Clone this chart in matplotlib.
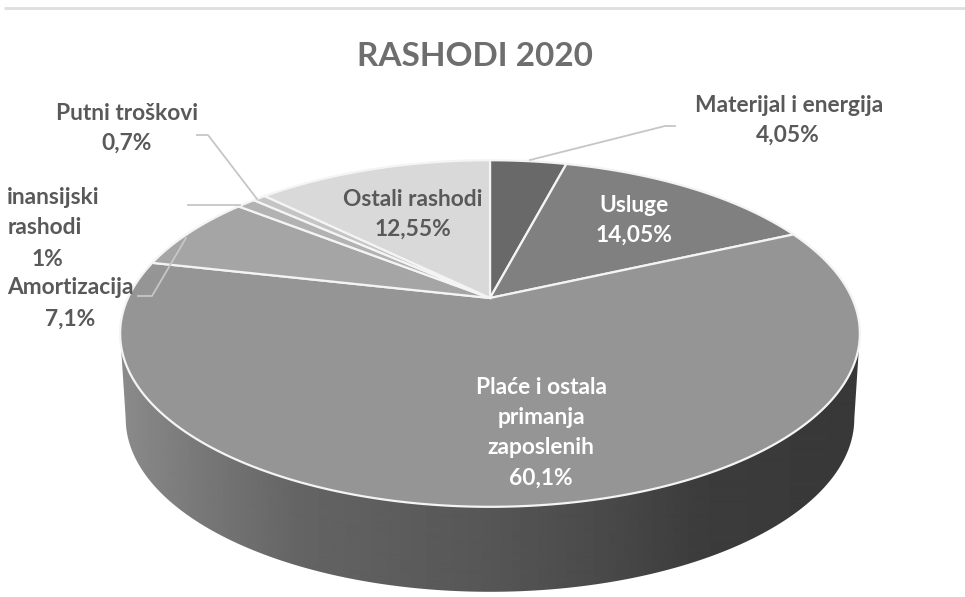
import numpy as np
import matplotlib
matplotlib.use("Agg")
import matplotlib.pyplot as plt
from matplotlib.patches import Polygon
from matplotlib.path import Path
from matplotlib.transforms import Transform, Affine2D

title = "RASHODI 2020"
categories = ["Materijal i energija", "Usluge", "Plaće i ostala primanja zaposlenih",
              "Amortizacija", "Finansijski rashodi", "Putni troškovi", "Ostali rashodi"]
values = [4.05, 14.05, 60.1, 7.1, 1.0, 0.7, 12.55]
value_labels = ["4,05%", "14,05%", "60,1%", "7,1%", "1%", "0,7%", "12,55%"]
greys = ["#696969", "#808080", "#959595", "#a5a5a5", "#b2b2b2", "#c4c4c4", "#d9d9d9"]

W, H = 965, 597
CX, CY, RX, RY, K = 490.0, 298.0, 362.0, 166.0, 0.205
DEPTH, WALL_SCALE = 85.0, 0.985


class Perspective(Transform):
    """Tilted-disc projection of the unit pie into pixel-like data coordinates."""
    input_dims = output_dims = 2
    has_inverse = False

    def __init__(self, dy=0.0, sx=1.0):
        super().__init__()
        self.dy, self.sx = dy, sx

    def transform_non_affine(self, xy):
        xy = np.asarray(xy, float)
        w = 1 + K * xy[:, 1]
        return np.column_stack([CX + self.sx * RX * xy[:, 0] / w,
                                CY + self.dy - RY * xy[:, 1] / w])

    def transform_path_non_affine(self, path):
        scale = 3000.0
        polys = path.to_polygons(Affine2D().scale(scale), closed_only=True)
        verts = np.vstack(polys) / scale
        return Path(self.transform_non_affine(verts), closed=False)


fig = plt.figure(figsize=(W / 100, H / 100), dpi=100, facecolor="white")
ax = fig.add_axes([0, 0, 1, 1])

wedges, _ = ax.pie(values, startangle=90, counterclock=False, colors=greys,
                   wedgeprops=dict(edgecolor="#f4f4f4", linewidth=1.6))
top = Perspective()
for wd in wedges:
    wd.set_transform(top + ax.transData)
    wd.set_clip_on(False)
    wd.set_zorder(3)

# side wall: horizontal shading clipped to the silhouette of the extruded disc
phi_top = np.linspace(np.pi + np.arcsin(K), 2 * np.pi - np.arcsin(K), 200)
bottom = Perspective(dy=DEPTH, sx=WALL_SCALE)
unit = np.column_stack([np.cos(phi_top), np.sin(phi_top)])
low = bottom.transform_non_affine(unit)
tl = top.transform_non_affine(np.array([[-np.sqrt(1 - K**2), -K]]))
tr = top.transform_non_affine(np.array([[np.sqrt(1 - K**2), -K]]))
outline = np.vstack([tl, low, tr])
wall = Polygon(outline, closed=True, transform=ax.transData, fc="none", ec="none")
ax.add_patch(wall)
xs = np.arange(W)
shade = np.interp(xs, [125, 200, 300, 490, 600, 700, 860],
                  [0x8a, 0x78, 0x64, 0x56, 0x4a, 0x3c, 0x38])
im = ax.imshow(shade[None, :], cmap="gray", vmin=0, vmax=255,
               extent=(0, W, H, 0), aspect="auto", zorder=1, interpolation="bilinear")
im.set_clip_path(wall)

ax.set_xlim(0, W)
ax.set_ylim(H, 0)
ax.set_aspect("auto")
ax.axis("off")

FONT = "Lato"
DARK, LIGHT = "#595959", "#ffffff"
LEADER = "#c6c6c6"


def put(x, y, s, color=DARK, size=16.4, ha="center"):
    ax.text(x, y, s, color=color, fontsize=size, fontweight="bold", family=FONT,
            ha=ha, va="center", zorder=5)


ax.text(475, 56, title, color="#6e6e6e", fontsize=24, fontweight="bold", family=FONT,
        ha="center", va="center")
ax.plot([4, W], [8, 8], color="#dedede", lw=2, zorder=1, solid_capstyle="butt")

put(789, 106, categories[0]); put(788, 135, value_labels[0])
put(634, 205, categories[1], LIGHT); put(634, 235, value_labels[1], LIGHT)
for y, s in zip([388, 418, 448], ["Plaće i ostala", "primanja", "zaposlenih"]):
    put(541, y, s, LIGHT)
put(541, 478, value_labels[2], LIGHT)
put(70, 288, categories[3]); put(70, 319, value_labels[3])
put(7, 198, "inansijski", ha="left"); put(8, 228, "rashodi", ha="left")
put(47, 259, value_labels[4])
put(127, 113, categories[5]); put(127, 143, value_labels[5])
put(413, 200, categories[6]); put(413, 229, value_labels[6])

for xs_, ys_ in [([530, 665, 675], [160, 126, 126]),
                 ([197, 208, 257], [135, 135, 199]),
                 ([188, 240], [205, 205]),
                 ([138, 152, 186], [296, 296, 238])]:
    ax.plot(xs_, ys_, color=LEADER, lw=1.3, zorder=4)

fig.savefig("out.png", dpi=100)
